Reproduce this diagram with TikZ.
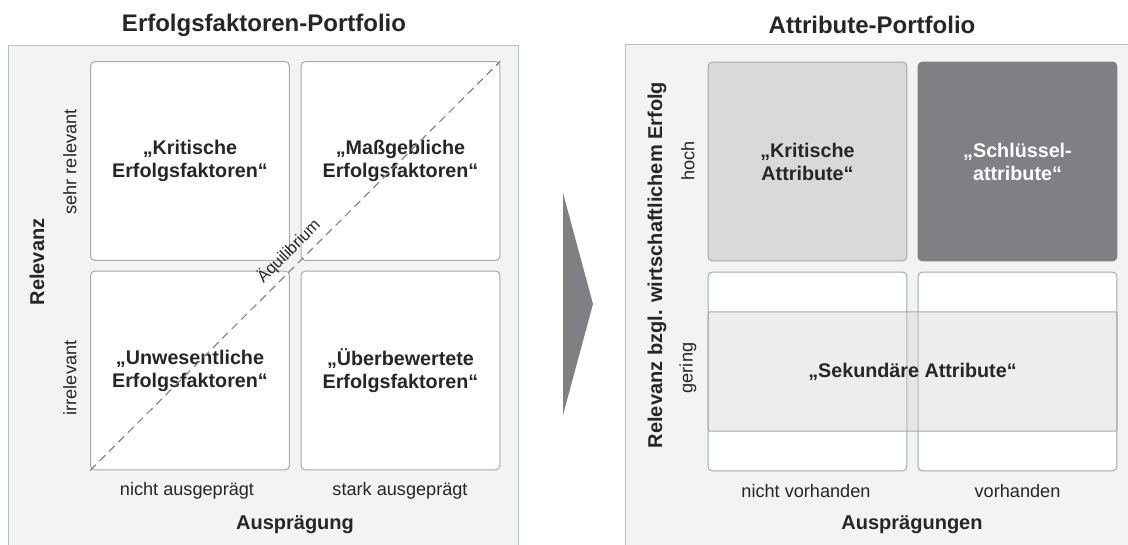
\documentclass[tikz,border=0pt]{standalone}
\usepackage{fontspec}
\setmainfont{Liberation Sans}
\usepackage{xcolor}
\usetikzlibrary{calc,positioning}
\definecolor{rahmen}{HTML}{F2F3F3}
\definecolor{rahmenlinie}{HTML}{BEBEBE}
\definecolor{zellinie}{HTML}{A8A8AA}
\definecolor{schrift}{HTML}{262626}
\definecolor{hellgrau}{HTML}{D9D9DB}
\definecolor{dunkelgrau}{HTML}{808084}
\definecolor{schleier}{HTML}{C8C9CD}

\begin{document}
\begin{tikzpicture}[x=0.75pt,y=-0.75pt,
  cell/.style={draw=zellinie,fill=white,line width=0.75pt,rounded corners=3pt,
    minimum width=149pt,minimum height=149pt,align=center,text=schrift,
    font=\fontsize{14.8}{17.3}\selectfont\bfseries},
  ticklabel/.style={text=schrift,font=\fontsize{13.6}{16}\selectfont},
  axistitle/.style={text=schrift,font=\fontsize{15}{18}\selectfont\bfseries},
  titel/.style={text=schrift,font=\fontsize{18}{21}\selectfont\bfseries}]
  \useasboundingbox (0,0) rectangle (1128,545);
  % linkes Portfolio
  \fill [rahmen] (8,46) rectangle (518,545);
  \draw [rahmenlinie,line width=0.75pt] (8,545) -- (8,46) -- (518,46) -- (518,545);
  \node (t1) [titel] at (264,25) {Erfolgsfaktoren-Portfolio};
  \node (kf) [cell] at (190,161) {„Kritische\\Erfolgsfaktoren“};
  \node (mf) [cell] at (400.5,161) {„Maßgebliche\\Erfolgsfaktoren“};
  \node (uf) [cell] at (190,370.5) {„Unwesentliche\\Erfolgsfaktoren“};
  \node (bf) [cell] at (400.5,370.5) {„Überbewertete\\Erfolgsfaktoren“};
  \draw [zellinie!80!black,line width=0.9pt,dash pattern=on 6pt off 4pt] (uf.south west) -- (mf.north east)
    node [pos=0.51,sloped,above=1pt,text=schrift,font=\fontsize{12.3}{14}\selectfont] {Äquilibrium};
  \node (sr) [ticklabel,rotate=90] at (70,162) {sehr relevant};
  \node (ir) [ticklabel,rotate=90] at (70,378) {irrelevant};
  \node (rel) [axistitle,rotate=90] at (37,262) {Relevanz};
  \node (na) [ticklabel] at (187,491) {nicht ausgeprägt};
  \node (sa) [ticklabel] at (400,491) {stark ausgeprägt};
  \node (aus) [axistitle] at (295,525) {Ausprägung};
  % Pfeil
  \fill [dunkelgrau] (563,193) -- (593,304) -- (563,415) -- cycle;
  % rechtes Portfolio
  \fill [rahmen] (625,45) rectangle (1128,545);
  \draw [rahmenlinie,line width=0.75pt] (625,545) -- (625,45) -- (1128,45);
  \node (t2) [titel] at (872,25) {Attribute-Portfolio};
  \node (ka) [cell,fill=hellgrau] at (807.5,161.5) {„Kritische\\Attribute“};
  \node (sk) [cell,fill=dunkelgrau,draw=dunkelgrau,text=white] at (1017.5,161.5) {„Schlüssel-\\attribute“};
  \node (lu) [cell] at (807.5,371.5) {};
  \node (ru) [cell] at (1017.5,371.5) {};
  \node (sek) [cell,fill=schleier,fill opacity=0.33,text opacity=1,rounded corners=1pt,
    minimum width=306.75pt,minimum height=89.25pt] at (912.5,371.5) {„Sekundäre Attribute“};
  \node (ho) [ticklabel,rotate=90] at (688,161) {hoch};
  \node (ge) [ticklabel,rotate=90] at (688,368) {gering};
  \node (rel2) [axistitle,rotate=90] at (657,265) {Relevanz bzgl. wirtschaftlichem Erfolg};
  \node (nv) [ticklabel] at (806,491) {nicht vorhanden};
  \node (vo) [ticklabel] at (1017.5,491) {vorhanden};
  \node (aus2) [axistitle] at (912,525) {Ausprägungen};
\end{tikzpicture}
\end{document}
